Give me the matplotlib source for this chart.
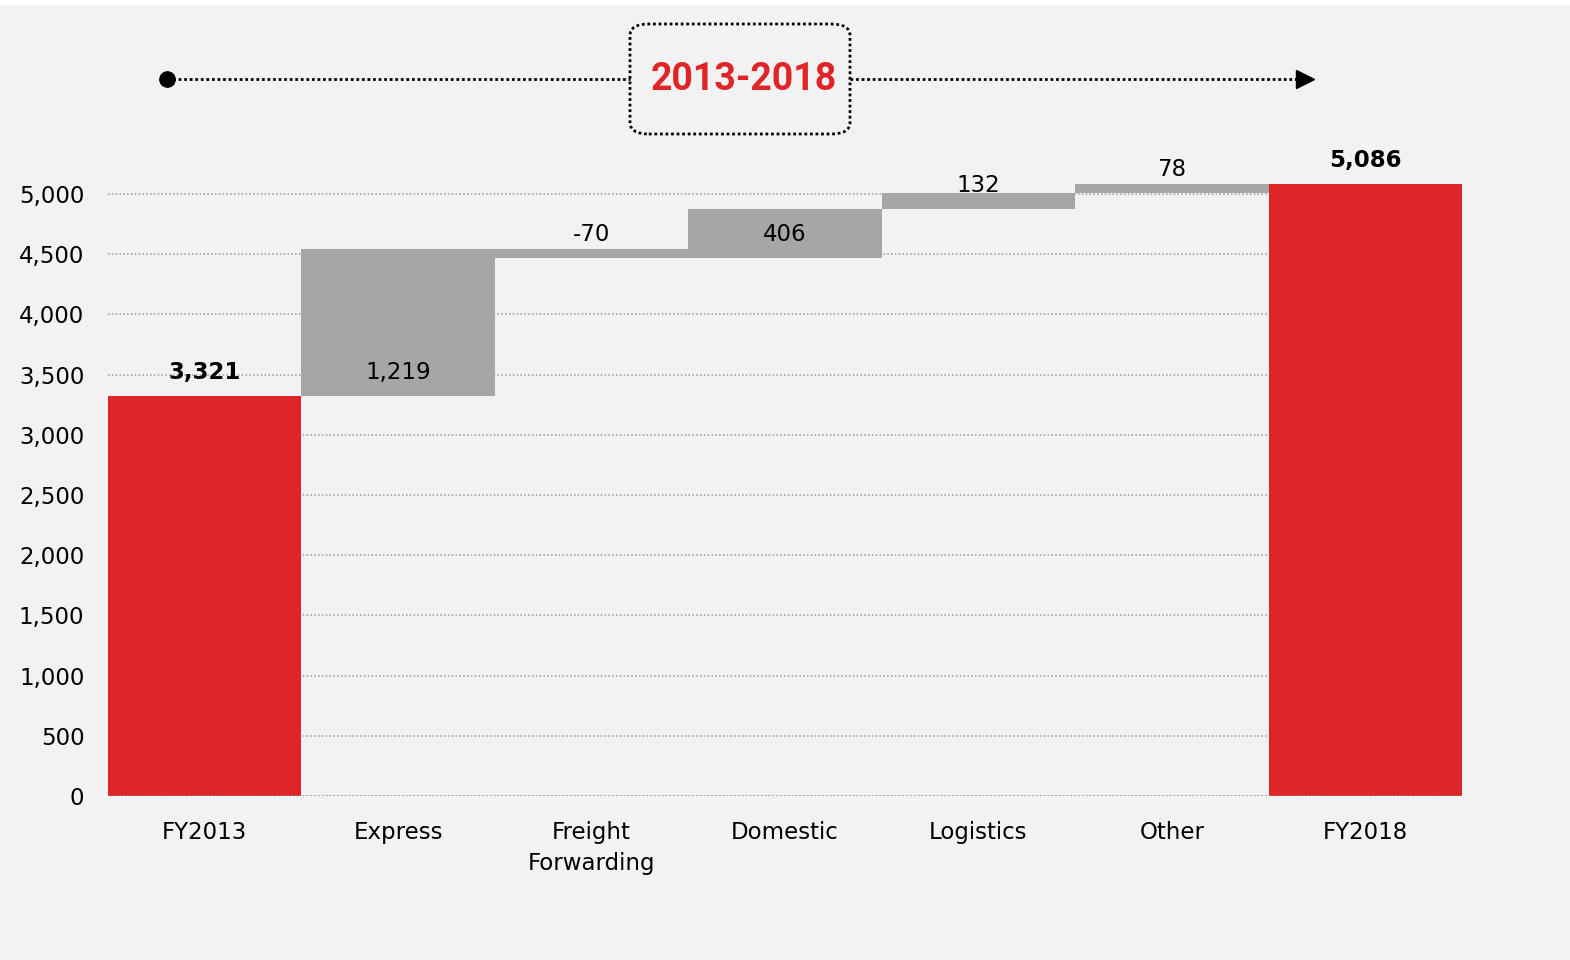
import matplotlib
matplotlib.use("Agg")
import matplotlib.pyplot as plt
from matplotlib.patches import FancyBboxPatch, Rectangle

# waterfall data: starting total, segment deltas, ending total
categories = ["FY2013", "Express", "Freight\nForwarding", "Domestic", "Logistics", "Other", "FY2018"]
start_total = 3321
deltas = [1219, -70, 406, 132, 78]
end_total = 5086
yticks = [0, 500, 1000, 1500, 2000, 2500, 3000, 3500, 4000, 4500, 5000]
period = "2013-2018"

RED = "#e02528"
GREY = "#a6a6a6"
BG = "#f2f2f2"

plt.rcParams['font.family'] = ['DejaVu Sans']

fig = plt.figure(figsize=(15.7, 9.6), dpi=100, facecolor=BG)
ax = fig.add_axes([108/1570, (960-796)/960, (1462-108)/1570, (796-133.8)/960])
ax.set_facecolor(BG)

# bottoms / heights for each bar
bottoms = [0]
heights = [start_total]
running = start_total
for d in deltas:
    if d >= 0:
        bottoms.append(running)
    else:
        bottoms.append(running + d)
    heights.append(abs(d))
    running += d
bottoms.append(0)
heights.append(end_total)
colors = [RED] + [GREY] * len(deltas) + [RED]

x = list(range(len(categories)))
ax.bar(x, heights, bottom=bottoms, width=1.0, color=colors, zorder=2, linewidth=0)

# labels: totals above the bar top in bold, deltas just above the bar base
labels = [f"{start_total:,}"] + [f"{d:,}" for d in deltas] + [f"{end_total:,}"]
for i, (b, h, lab) in enumerate(zip(bottoms, heights, labels)):
    total = i in (0, len(categories) - 1)
    ref = b + h if total else b
    ax.annotate(lab, (i, ref), xytext=(0, 17), textcoords='offset points',
                ha='center', va='center', fontsize=16.5,
                fontweight='bold' if total else 'normal', zorder=4)

ax.set_xlim(-0.5, len(categories) - 0.5)
ax.set_ylim(0, 5500)
ax.set_yticks(yticks)
ax.set_yticklabels([f"{v:,}" for v in yticks], fontsize=16.5)
ax.set_xticks(x)
ax.set_xticklabels(categories, fontsize=16.5, linespacing=1.45)
ax.tick_params(axis='both', length=0)
ax.tick_params(axis='y', pad=17)
ax.tick_params(axis='x', pad=18)
for s in ax.spines.values():
    s.set_visible(False)
for v in yticks:
    ax.axhline(v, color='#999999', lw=1.1, ls=(0, (1, 1.5)), zorder=1)
ax.axhline(0, color='#999999', lw=1.1, ls=(0, (1, 1.5)), zorder=3)

# period banner across the top
def fx(px):
    return px / 1570

def fy(py):
    return 1 - py / 960

line_y = fy(79)
fig.add_artist(plt.Line2D([fx(167), fx(630)], [line_y, line_y], color='black', lw=2,
                          ls=(0, (1, 1)), transform=fig.transFigure))
fig.add_artist(plt.Line2D([fx(850), fx(1300)], [line_y, line_y], color='black', lw=2,
                          ls=(0, (1, 1)), transform=fig.transFigure))
fig.add_artist(plt.Line2D([fx(167)], [line_y], marker='o', ms=11, color='black',
                          transform=fig.transFigure))
fig.add_artist(plt.Line2D([fx(1305)], [line_y], marker='>', ms=13, color='black',
                          transform=fig.transFigure))
box = FancyBboxPatch((fx(630), fy(134)), fx(850) - fx(630), fy(24) - fy(134),
                     boxstyle="round,pad=0,rounding_size=0.012", transform=fig.transFigure,
                     facecolor=BG, edgecolor='black', lw=2, ls=(0, (1, 1)))
fig.add_artist(box)
fig.text(fx(744), fy(80), period, color=RED, fontsize=27, fontweight='bold',
         family=['Roboto', 'DejaVu Sans'], ha='center', va='center')

# thin white strip along the top edge
fig.add_artist(Rectangle((0, fy(5)), 1, fy(0) - fy(5), transform=fig.transFigure,
                         facecolor='white', edgecolor='none'))

fig.savefig("out.png", dpi=100, facecolor=BG)
